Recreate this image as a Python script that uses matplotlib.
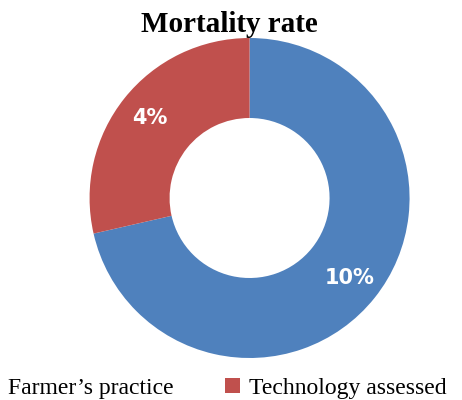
import matplotlib
matplotlib.use("Agg")
import matplotlib.pyplot as plt
from matplotlib.patches import Patch

labels = ["Farmer\u2019s practice", "Technology assessed"]
values = [10, 4]
colors = ["#4F81BD", "#C0504D"]

fig = plt.figure(figsize=(4.62, 4.0), dpi=100)
ax = fig.add_axes([0.1937, 0.105, 0.693, 0.8])

wedges, texts, autotexts = ax.pie(
    values, colors=colors, startangle=90, counterclock=False,
    wedgeprops=dict(width=0.5, edgecolor="none"),
    autopct=lambda p: "%d%%" % round(p * sum(values) / 100),
    pctdistance=0.8,
)
for t in autotexts:
    t.set_color("white")
    t.set_fontweight("bold")
    t.set_fontsize(15)
    t.set_family("DejaVu Sans")
ax.set_xlim(-1, 1)
ax.set_ylim(-1, 1)
ax.set_aspect("equal")

fig.text(0.496, 0.94, "Mortality rate", ha="center", va="center",
         family="Liberation Serif", fontweight="bold", fontsize=21)

handles = [Patch(facecolor=c, edgecolor="none") for c in colors]
fig.legend(handles, labels, loc="lower left", bbox_to_anchor=(-0.08, -0.05),
           ncol=2, frameon=False, prop=dict(family="Liberation Serif", size=17),
           handlelength=0.6, handleheight=0.6, handletextpad=0.4,
           columnspacing=2.2)

fig.savefig("out.png", dpi=100)
